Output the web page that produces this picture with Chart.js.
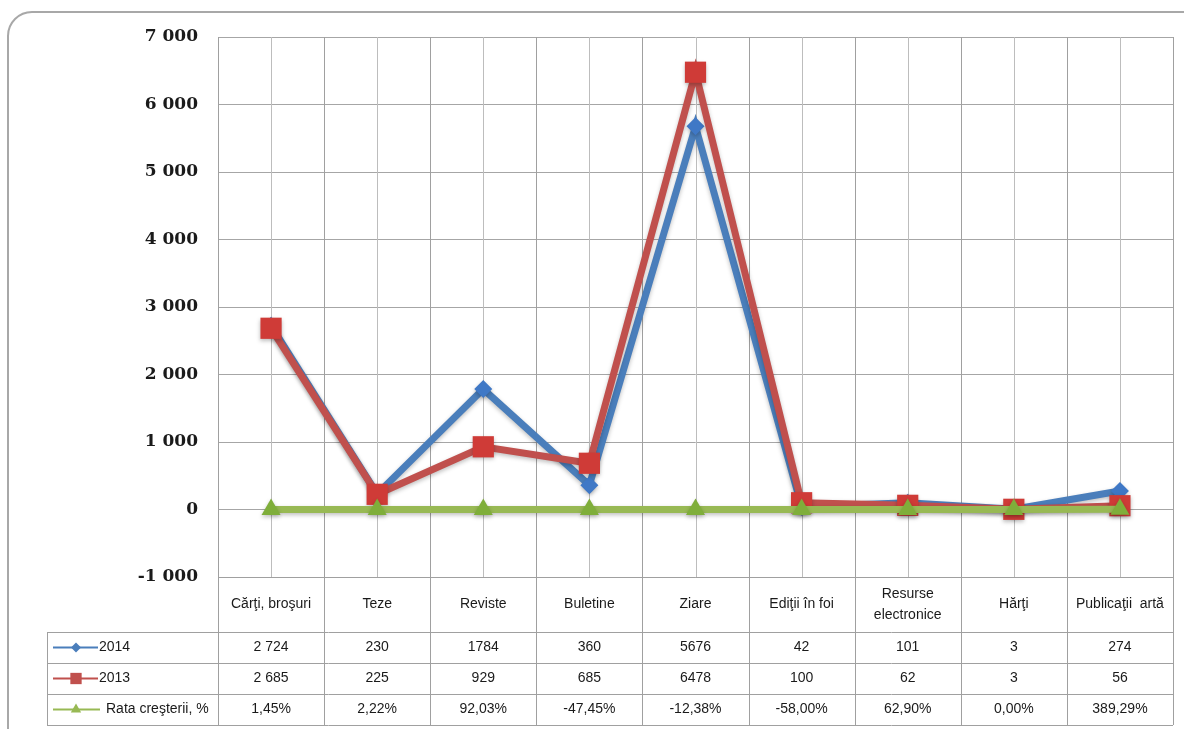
<!DOCTYPE html>
<html>
<head>
<meta charset="utf-8">
<script src="https://cdn.jsdelivr.net/npm/chart.js@4"></script>
<style>
  html, body { margin: 0; background: #fff; overflow: hidden; }
  #chart { display: block; }
</style>
</head>
<body>
<canvas id="chart" width="1184" height="729"></canvas>
<script>
const categories = ['Cărţi, broşuri', 'Teze', 'Reviste', 'Buletine', 'Ziare', 'Ediţii în foi', ['Resurse', 'electronice'], 'Hărţi', 'Publicaţii  artă'];
const values2014 = [2724, 230, 1784, 360, 5676, 42, 101, 3, 274];
const values2013 = [2685, 225, 929, 685, 6478, 100, 62, 3, 56];
const growthRate = [0.0145, 0.0222, 0.9203, -0.4745, -0.1238, -0.58, 0.629, 0, 3.8929];
const text2014 = ['2 724', '230', '1784', '360', '5676', '42', '101', '3', '274'];
const text2013 = ['2 685', '225', '929', '685', '6478', '100', '62', '3', '56'];
const seriesNames = ['2014', '2013', 'Rata creşterii, %'];

const blue = '#4A7EBB', red = '#C0504D', green = '#98B954';
const tableFont = '14px "Liberation Sans Narrow", "Liberation Sans", Arial, sans-serif';

function pct(v) {
  return (v * 100).toFixed(2).replace('.', ',') + '%';
}
function spaced(v) {
  return String(v).replace(/\B(?=(\d{3})+(?!\d))/g, ' ');
}

const rowH = 31, headH = 55, legendLeft = 47;

const tablePlugin = {
  id: 'dataTable',
  beforeDraw(chart) {
    const ctx = chart.ctx;
    ctx.save();
    ctx.strokeStyle = '#a8a8a8';
    ctx.lineWidth = 2;
    ctx.beginPath();
    ctx.roundRect(8, 12, 1200, 740, 24);
    ctx.stroke();
    ctx.restore();
  },
  beforeDatasetsDraw(chart) {
    const ctx = chart.ctx, a = chart.chartArea, x = chart.scales.x;
    const half = (x.getPixelForValue(1) - x.getPixelForValue(0)) / 2;
    const tableBottom = a.bottom + headH + rowH * 3;
    ctx.save();
    ctx.lineWidth = 1;
    for (let i = 0; i < categories.length; i++) {
      const c = Math.round(x.getPixelForValue(i)) + 0.5;
      ctx.strokeStyle = '#bdbdbd';
      ctx.beginPath();
      ctx.moveTo(c, a.top);
      ctx.lineTo(c, a.bottom);
      ctx.stroke();
    }
    for (let i = 0; i <= categories.length; i++) {
      const b = Math.round(x.getPixelForValue(0) - half + i * half * 2) + 0.5;
      ctx.strokeStyle = '#a0a0a0';
      ctx.beginPath();
      ctx.moveTo(b, a.top);
      ctx.lineTo(b, tableBottom);
      ctx.stroke();
    }
    ctx.restore();
    ctx.save();
    ctx.shadowColor = 'rgba(0,0,0,0.25)';
    ctx.shadowBlur = 4;
    ctx.shadowOffsetY = 2;
  },
  afterDatasetsDraw(chart) {
    chart.ctx.restore();
  },
  afterDraw(chart) {
    const ctx = chart.ctx, a = chart.chartArea, x = chart.scales.x;
    const top = a.bottom, headBottom = top + headH;
    ctx.save();
    ctx.strokeStyle = '#a0a0a0';
    ctx.lineWidth = 1;
    ctx.beginPath();
    ctx.moveTo(a.left, Math.round(top) + 0.5);
    ctx.lineTo(a.right, Math.round(top) + 0.5);
    for (let r = 0; r <= 3; r++) {
      const y = Math.round(headBottom + r * rowH) + 0.5;
      ctx.moveTo(legendLeft, y);
      ctx.lineTo(a.right, y);
    }
    ctx.moveTo(legendLeft + 0.5, headBottom);
    ctx.lineTo(legendLeft + 0.5, headBottom + rowH * 3);
    ctx.stroke();

    ctx.fillStyle = '#1a1a1a';
    ctx.font = tableFont;
    ctx.textAlign = 'center';
    ctx.textBaseline = 'middle';
    categories.forEach((cat, i) => {
      const cx = x.getPixelForValue(i);
      const lines = Array.isArray(cat) ? cat : [cat];
      lines.forEach((ln, k) => {
        ctx.fillText(ln, cx, top + headH / 2 + (k - (lines.length - 1) / 2) * 21);
      });
      ctx.fillText(text2014[i], cx, headBottom + rowH * 0.5);
      ctx.fillText(text2013[i], cx, headBottom + rowH * 1.5);
      ctx.fillText(pct(growthRate[i]), cx, headBottom + rowH * 2.5);
    });

    // legend keys
    const keys = [
      { color: blue, style: 'rectRot', r: 5, x2: 98 },
      { color: red, style: 'rect', r: 8, x2: 98 },
      { color: green, style: 'triangle', r: 6, x2: 100 }
    ];
    keys.forEach((k, r) => {
      const y = headBottom + rowH * (r + 0.5);
      ctx.strokeStyle = k.color;
      ctx.lineWidth = 2;
      ctx.beginPath();
      ctx.moveTo(53, y);
      ctx.lineTo(k.x2, y);
      ctx.stroke();
      ctx.fillStyle = k.color;
      Chart.helpers.drawPoint(ctx, { pointStyle: k.style, radius: k.r, borderWidth: 0 }, 76, y);
      ctx.fillStyle = '#1a1a1a';
      ctx.textAlign = 'left';
      ctx.fillText(seriesNames[r], r === 2 ? 106 : 99, y);
    });
    ctx.restore();
  }
};

new Chart(document.getElementById('chart'), {
  type: 'line',
  data: {
    labels: categories,
    datasets: [
      {
        label: seriesNames[0],
        data: values2014,
        borderColor: blue,
        backgroundColor: '#3F78C6',
        borderWidth: 7,
        pointStyle: 'rectRot',
        pointRadius: 9,
        pointBorderWidth: 0,
        order: 3
      },
      {
        label: seriesNames[1],
        data: values2013,
        borderColor: red,
        backgroundColor: '#CF3B37',
        borderWidth: 7,
        pointStyle: 'rect',
        pointRadius: 15,
        pointBorderWidth: 0,
        order: 2
      },
      {
        label: seriesNames[2],
        data: growthRate,
        borderColor: green,
        backgroundColor: '#7FAE3A',
        borderWidth: 7,
        pointStyle: 'triangle',
        pointRadius: 11,
        pointBorderWidth: 0,
        order: 1
      }
    ]
  },
  options: {
    responsive: false,
    animation: false,
    layout: {
      autoPadding: false,
      padding: { left: 10, top: 37, right: 11, bottom: 144 }
    },
    plugins: {
      legend: { display: false },
      tooltip: { enabled: false }
    },
    scales: {
      x: {
        type: 'category',
        offset: true,
        grid: { display: false },
        border: { display: false },
        ticks: { display: false }
      },
      y: {
        min: -1000,
        max: 7000,
        afterFit(scale) { scale.width = 208; },
        border: { display: false },
        grid: { color: '#a6a6a6', drawTicks: false },
        ticks: {
          stepSize: 1000,
          padding: 20,
          color: '#1a1a1a',
          font: { family: '"DejaVu Serif", "Liberation Serif", serif', weight: 'bold', size: 17 },
          callback: function (value) {
            return value < 0 ? '-' + spaced(-value) : spaced(value);
          }
        }
      }
    }
  },
  plugins: [tablePlugin]
});
</script>
</body>
</html>
